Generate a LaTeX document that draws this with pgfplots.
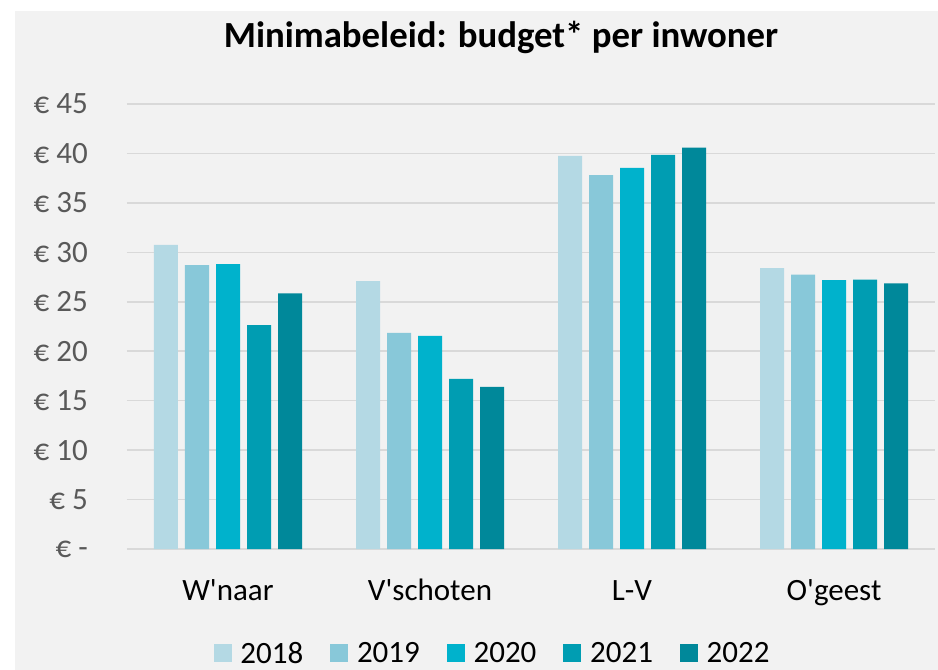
\documentclass[border=0pt]{standalone}
\usepackage{pgfplots}
\pgfplotsset{compat=1.18}
\usepackage{fontspec}
\setmainfont{Carlito}
\definecolor{bg}{HTML}{F2F2F2}
\definecolor{gridc}{HTML}{D9D9D9}
\definecolor{ca}{HTML}{B4D9E4}
\definecolor{cb}{HTML}{88C8D9}
\definecolor{cc}{HTML}{00B2CC}
\definecolor{cd}{HTML}{009DB2}
\definecolor{ce}{HTML}{00889A}
\definecolor{tickc}{HTML}{595959}
\begin{document}
\begin{tikzpicture}
\path[use as bounding box] (0pt,0pt) rectangle (938pt,670pt);
\fill[white] (0pt,0pt) rectangle (938pt,670pt);
\fill[bg] (15pt,0pt) rectangle (938pt,659pt);
\begin{axis}[
  at={(127pt,121pt)}, anchor=south west, scale only axis,
  width=808pt, height=445pt,
  xmin=-0.5, xmax=3.5, ymin=0, ymax=45,
  ybar=7pt, bar width=24pt,
  axis line style={draw=none},
  ymajorgrids, grid style={draw=gridc, line width=1.6pt},
  major tick length=0pt,
  ytick={0,5,...,45},
  yticklabels={€ -\hspace{13pt}, € 5, € 10, € 15, € 20, € 25, € 30, € 35, € 40, € 45},
  yticklabel style={font=\fontsize{31}{31}\selectfont, text=tickc, inner sep=0pt, anchor=east, xshift=-39pt},
  xtick={0,1,2,3},
  xticklabels={W\textquotesingle naar, V\textquotesingle schoten, L-V, O\textquotesingle geest},
  xticklabel style={font=\fontsize{31}{31}\selectfont, text=black, anchor=base, inner sep=0pt, yshift=-51pt},
  title={Minimabeleid: budget* per inwoner},
  every axis title/.style={font=\bfseries\fontsize{36.8}{36.8}\selectfont, anchor=base, at={(0.4629,1.1274)}, inner sep=0pt},
  legend columns=5,
  legend style={draw=none, fill=none, at={(0.4513,-0.2348)}, anchor=center,
    font=\fontsize{31}{31}\selectfont, inner sep=0pt, nodes={inner sep=0pt},
    /tikz/every odd column/.append style={column sep=8.7pt},
    /tikz/every even column/.append style={column sep=27pt}},
  legend image code/.code={\fill[#1] (0pt,-8.4pt) rectangle (18pt,9pt);},
]
\addplot[fill=ca, draw=none] coordinates {(0,30.75) (1,27.1) (2,39.75) (3,28.4)};
\addplot[fill=cb, draw=none] coordinates {(0,28.7) (1,21.85) (2,37.8) (3,27.75)};
\addplot[fill=cc, draw=none] coordinates {(0,28.8) (1,21.55) (2,38.55) (3,27.2)};
\addplot[fill=cd, draw=none] coordinates {(0,22.65) (1,17.2) (2,39.85) (3,27.25)};
\addplot[fill=ce, draw=none] coordinates {(0,25.85) (1,16.4) (2,40.6) (3,26.85)};
\legend{2018,2019,2020,2021,2022}
\end{axis}
\end{tikzpicture}
\end{document}
